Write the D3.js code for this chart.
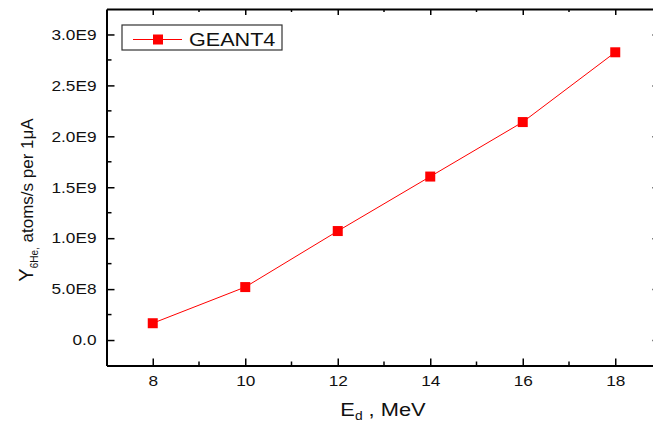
<!DOCTYPE html>
<html>
<head>
<meta charset="utf-8">
<script src="https://cdn.jsdelivr.net/npm/d3@7"></script>
<style>
  body { margin: 0; background: #fff; overflow: hidden; }
  text { font-family: "Liberation Sans", Arial, sans-serif; }
</style>
</head>
<body>
<div id="chart"></div>
<script>
// data
const energies = [8, 10, 12, 14, 16, 18];
const yields = [0.165e9, 0.52e9, 1.07e9, 1.605e9, 2.14e9, 2.825e9];
const xTicks = [8, 10, 12, 14, 16, 18];
const xMinor = [9, 11, 13, 15, 17];
const yTicks = [0, 0.5e9, 1.0e9, 1.5e9, 2.0e9, 2.5e9, 3.0e9];
const yMinor = [0.25e9, 0.75e9, 1.25e9, 1.75e9, 2.25e9, 2.75e9];
const yTickLabels = ["0.0", "5.0E8", "1.0E9", "1.5E9", "2.0E9", "2.5E9", "3.0E9"];
const seriesName = "GEANT4";

const W = 653, H = 422;
const margin = {top: 9, left: 106.5};
const width = 555,     // right spine falls just past the picture edge
      height = 356.5;
const k = 1.15;        // the original text is a bit wider than the font

const svg = d3.select("#chart").append("svg")
    .attr("width", W)
    .attr("height", H);

const g = svg.append("g")
    .attr("transform", `translate(${margin.left},${margin.top})`);

const x = d3.scaleLinear().domain([7, 19]).range([0, width]);
const y = d3.scaleLinear().domain([-0.25e9, 3.25e9]).range([height, 0]);

function minorTicks(sel, vals, horiz, pos, len) {
    sel.append("g").selectAll("line").data(vals).join("line")
        .attr("x1", d => horiz ? x(d) : pos).attr("x2", d => horiz ? x(d) : pos + len)
        .attr("y1", d => horiz ? pos : y(d)).attr("y2", d => horiz ? pos + len : y(d))
        .attr("stroke", "#000").attr("stroke-width", 1.5);
}

// bottom axis, ticks point inward
g.append("g")
    .attr("transform", `translate(0,${height})`)
    .call(d3.axisBottom(x).tickValues(xTicks).tickSize(-7).tickPadding(10).tickSizeOuter(0))
    .call(a => a.select(".domain").attr("stroke-width", 2))
    .call(a => a.selectAll(".tick line").attr("stroke-width", 1.5))
    .call(a => a.selectAll("text").attr("font-size", 15).attr("fill", "#111")
        .attr("transform", `scale(${k},1)`));
minorTicks(g, xMinor, true, height, -4);

// top axis
g.append("g")
    .call(d3.axisTop(x).tickValues(xTicks).tickSize(-6).tickFormat("").tickSizeOuter(0))
    .call(a => a.select(".domain").attr("stroke-width", 2))
    .call(a => a.selectAll(".tick line").attr("stroke-width", 1.5));
minorTicks(g, xMinor, true, 0, 3);

// left axis
g.append("g")
    .call(d3.axisLeft(y).tickValues(yTicks).tickSize(-8).tickPadding(10).tickSizeOuter(0)
        .tickFormat((d, i) => yTickLabels[i]))
    .call(a => a.select(".domain").attr("stroke-width", 2))
    .call(a => a.selectAll(".tick line").attr("stroke-width", 1.5))
    .call(a => a.selectAll("text").attr("font-size", 15).attr("fill", "#111")
        .attr("x", -10 / k).attr("transform", `scale(${k},1)`));
minorTicks(g, yMinor, false, 0, 5);

// right axis, only its tick ends show at the edge
g.append("g")
    .attr("transform", `translate(${width},0)`)
    .call(d3.axisRight(y).tickValues(yTicks).tickSize(-9).tickFormat("").tickSizeOuter(0))
    .call(a => a.select(".domain").attr("stroke-width", 2))
    .call(a => a.selectAll(".tick line").attr("stroke-width", 1.5));
minorTicks(g, yMinor, false, width, -5);

// series
const pts = energies.map((e, i) => [e, yields[i]]);
g.append("path")
    .datum(pts)
    .attr("fill", "none")
    .attr("stroke", "#ff0000")
    .attr("stroke-width", 1)
    .attr("d", d3.line().x(d => x(d[0])).y(d => y(d[1])));

g.selectAll("rect.pt").data(pts).join("rect")
    .attr("class", "pt")
    .attr("x", d => x(d[0]) - 5)
    .attr("y", d => y(d[1]) - 5)
    .attr("width", 10).attr("height", 10)
    .attr("fill", "#ff0000");

// legend
const lg = svg.append("g").attr("transform", "translate(122,25)");
lg.append("rect")
    .attr("width", 160).attr("height", 25)
    .attr("fill", "#fff").attr("stroke", "#333").attr("stroke-width", 1.2);
lg.append("line")
    .attr("x1", 11).attr("x2", 60).attr("y1", 14.5).attr("y2", 14.5)
    .attr("stroke", "#ff0000").attr("stroke-width", 1);
lg.append("rect")
    .attr("x", 31).attr("y", 9.5).attr("width", 10).attr("height", 10)
    .attr("fill", "#ff0000");
lg.append("text")
    .attr("x", 67 / 1.2).attr("y", 21)
    .attr("transform", "scale(1.2,1)")
    .attr("font-size", 18).attr("fill", "#111")
    .text(seriesName);

// axis titles
svg.append("text")
    .attr("x", 383 / k).attr("y", 416)
    .attr("transform", `scale(${k},1)`)
    .attr("text-anchor", "middle")
    .attr("font-size", 19).attr("fill", "#111")
    .html('E<tspan dy="4" font-size="12">d</tspan><tspan dy="-4"> , MeV</tspan>');

svg.append("text")
    .attr("transform", "translate(33,200) rotate(-90)")
    .attr("text-anchor", "middle")
    .attr("font-size", 17).attr("fill", "#111")
    .html('<tspan font-size="20">Y</tspan><tspan dy="5" font-size="10">6He,</tspan><tspan dy="-5"> atoms/s per 1μA</tspan>');
</script>
</body>
</html>
